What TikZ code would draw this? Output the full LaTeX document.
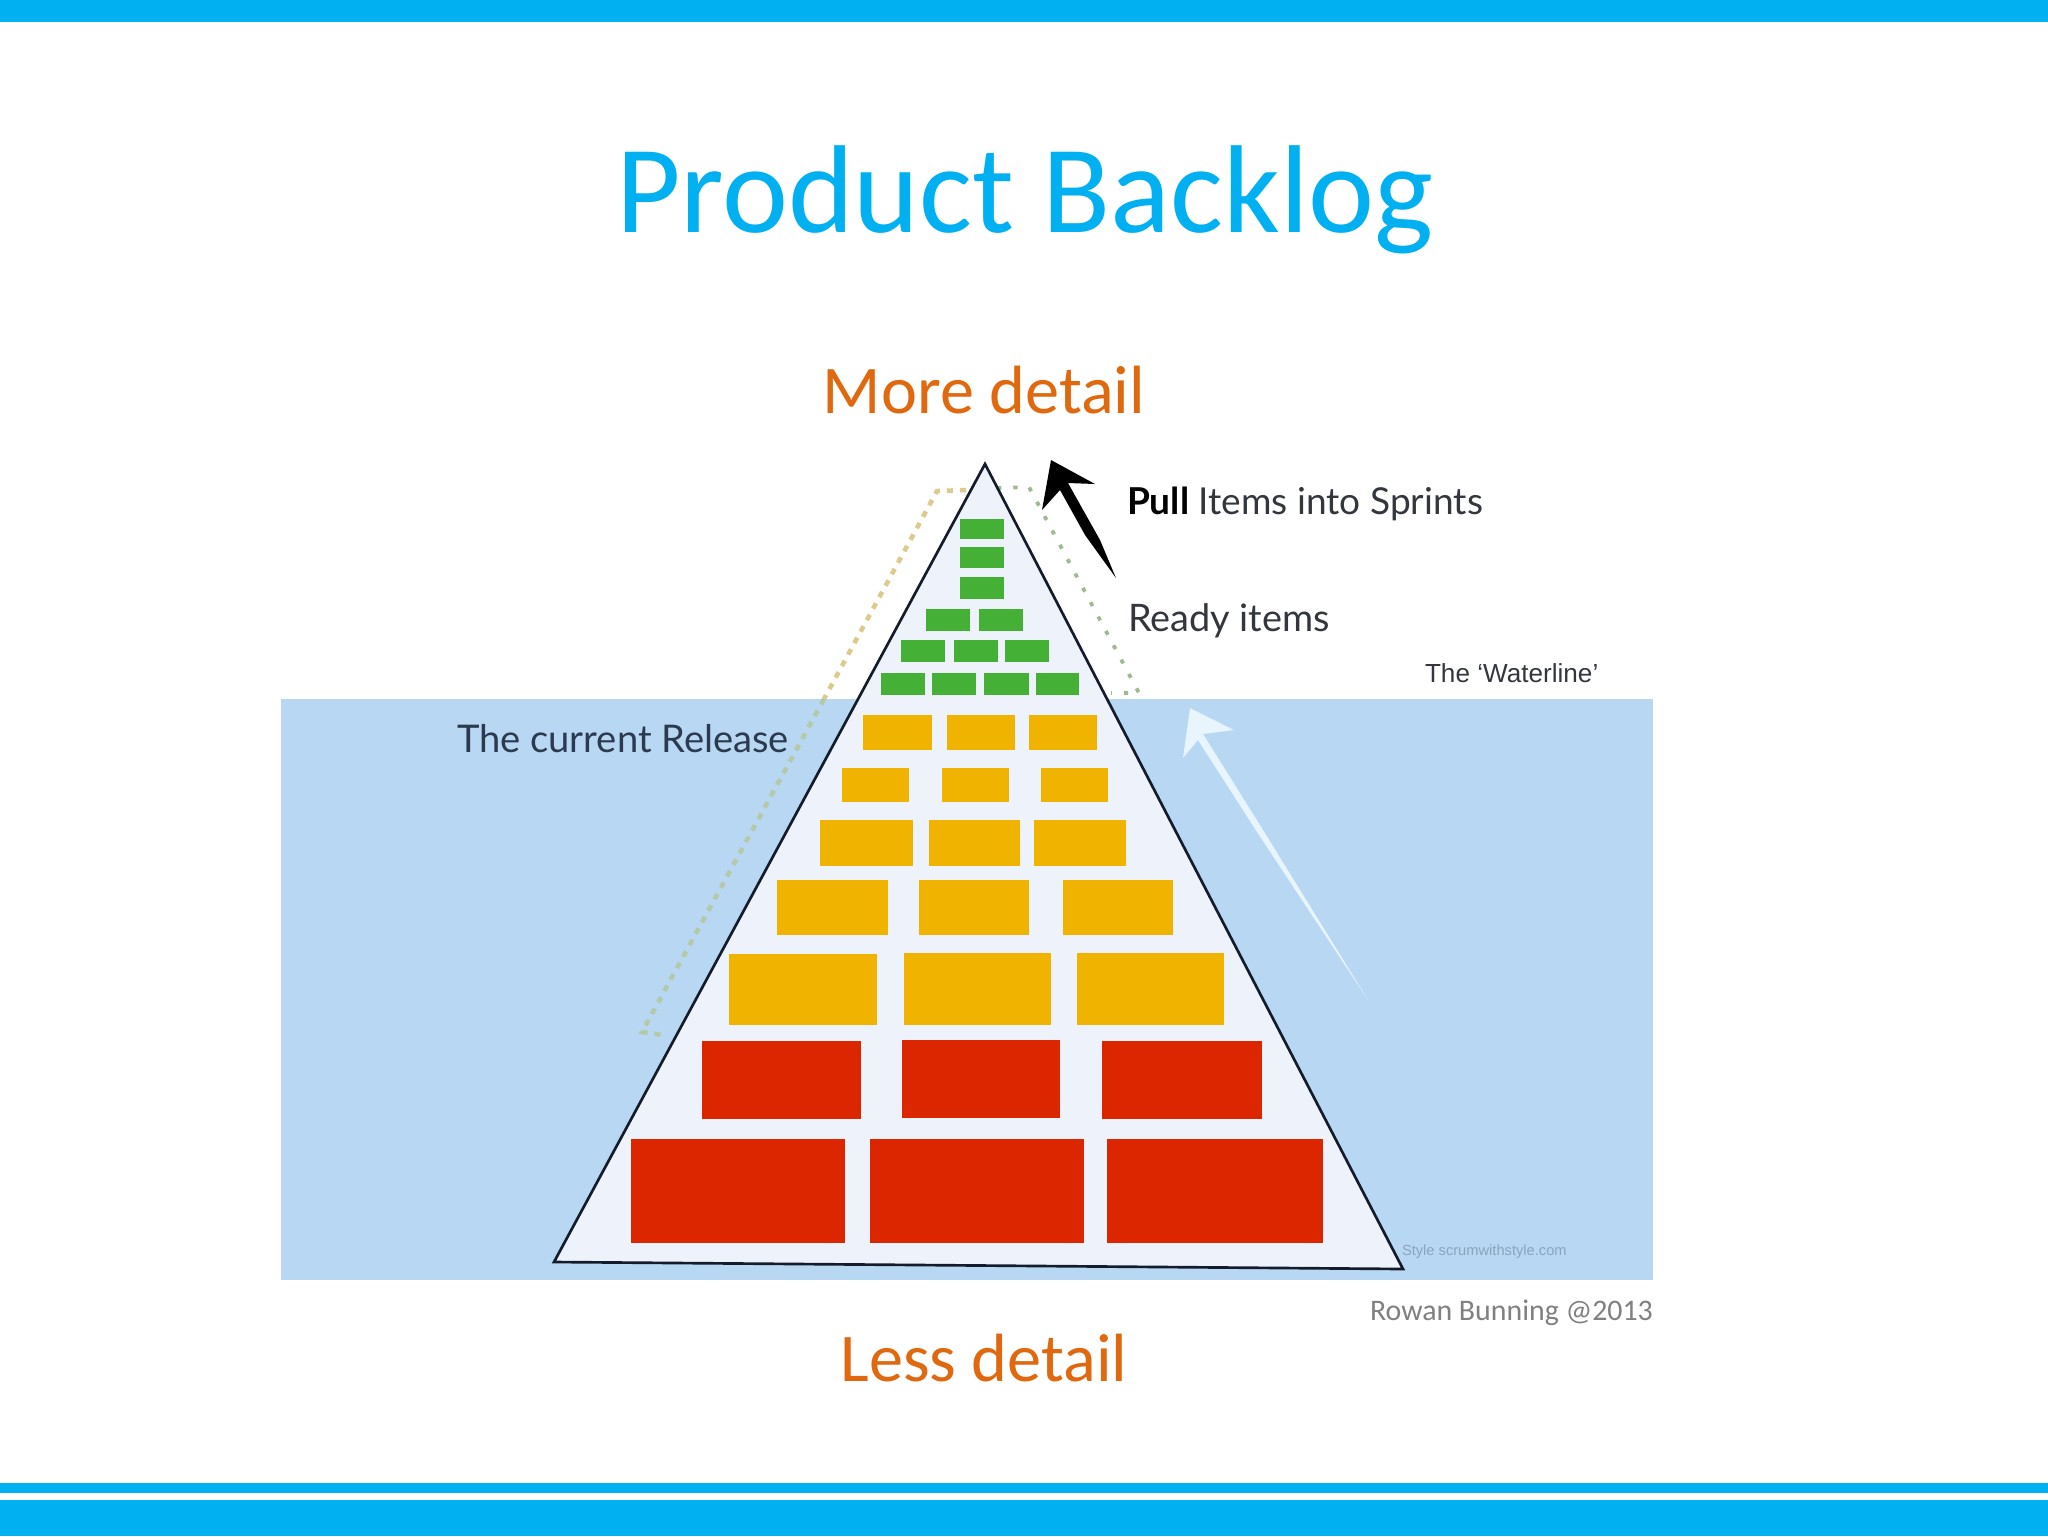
\documentclass[tikz,border=0pt]{standalone}
\usepackage{fontspec}
\setmainfont{Carlito}
\newfontfamily\labelfont{Lato}
\newfontfamily\markfont{Liberation Sans}
\definecolor{barblue}{HTML}{00B0F0}
\definecolor{water}{HTML}{B7D7F2}
\definecolor{pyrfill}{HTML}{EEF2FB}
\definecolor{greenbox}{HTML}{44B035}
\definecolor{orangebox}{HTML}{EFB300}
\definecolor{redbox}{HTML}{DC2600}
\definecolor{orangetext}{HTML}{E0690F}
\definecolor{releasedash}{HTML}{DCCB8C}
\definecolor{releasewater}{HTML}{B4C9A8}
\definecolor{readydot}{HTML}{9DBB8F}
\definecolor{labeltext}{HTML}{33373D}
\definecolor{navytext}{HTML}{2B3A4F}
\definecolor{arrowwhite}{HTML}{E9F5FD}
\definecolor{pyrline}{HTML}{141C2B}
\definecolor{marktext}{HTML}{8AA4BE}
\tikzset{
  x=0.375pt,y=-0.375pt,
  gbox/.style={fill=greenbox,draw=none},
  obox/.style={fill=orangebox,draw=none},
  rbox/.style={fill=redbox,draw=none},
  lbl/.style={anchor=base west,inner sep=0pt,outer sep=0pt},
  ctr/.style={anchor=base,inner sep=0pt,outer sep=0pt},
}
\begin{document}
\begin{tikzpicture}
\useasboundingbox (0,0) rectangle (2048,1536);
\fill[white] (0,0) rectangle (2048,1536);
% bars
\fill[barblue] (0,0) rectangle (2048,22);
\fill[barblue] (0,1483) rectangle (2048,1493);
\fill[barblue] (0,1500) rectangle (2048,1536);
% water
\fill[water] (281,699) rectangle (1653,1280);
% dashed release outline
\draw[releasedash,line width=1.7pt,dash pattern=on 2.3pt off 2.6pt] (966,490) -- (937,491) -- (824,699);
\draw[releasewater,line width=1.7pt,dash pattern=on 2.3pt off 2.6pt] (824,699) -- (642,1032) -- (663,1035);
% ready outline
\draw[readydot,line width=1.4pt,dash pattern=on 1.6pt off 4.5pt] (997,488) -- (1029,487) -- (1139,693) -- (1111,693);
% pyramid
\draw[fill=pyrfill,draw=pyrline,line width=1pt,line join=miter] (985,464) -- (1403,1269) -- (554,1262) -- cycle;
% green
\fill[gbox] (960,519) rectangle (1004,539);
\fill[gbox] (960,547) rectangle (1004,568);
\fill[gbox] (960,577) rectangle (1004,599);
\fill[gbox] (926,609) rectangle (970,631);
\fill[gbox] (979,609) rectangle (1023,631);
\fill[gbox] (901,640) rectangle (945,662);
\fill[gbox] (954,640) rectangle (998,662);
\fill[gbox] (1005,640) rectangle (1049,662);
\fill[gbox] (881,673) rectangle (925,695);
\fill[gbox] (932,673) rectangle (976,695);
\fill[gbox] (984,673) rectangle (1029,695);
\fill[gbox] (1036,673) rectangle (1079,695);
% orange
\fill[obox] (863,715) rectangle (932,750);
\fill[obox] (947,715) rectangle (1015,750);
\fill[obox] (1029,715) rectangle (1097,750);
\fill[obox] (842,768) rectangle (909,802);
\fill[obox] (942,768) rectangle (1009,802);
\fill[obox] (1041,768) rectangle (1108,802);
\fill[obox] (820,820) rectangle (913,866);
\fill[obox] (929,820) rectangle (1020,866);
\fill[obox] (1034,820) rectangle (1126,866);
\fill[obox] (777,880) rectangle (888,935);
\fill[obox] (919,880) rectangle (1029,935);
\fill[obox] (1063,880) rectangle (1173,935);
\fill[obox] (729,954) rectangle (877,1025);
\fill[obox] (904,953) rectangle (1051,1025);
\fill[obox] (1077,953) rectangle (1224,1025);
% red
\fill[rbox] (702,1041) rectangle (861,1119);
\fill[rbox] (902,1040) rectangle (1060,1118);
\fill[rbox] (1102,1041) rectangle (1262,1119);
\fill[rbox] (631,1139) rectangle (845,1243);
\fill[rbox] (870,1139) rectangle (1084,1243);
\fill[rbox] (1107,1139) rectangle (1323,1243);
% pull arrow
\fill[black] (1051,460) -- (1095,484) -- (1068,483) -- (1100,540) -- (1116,578) -- (1085,535) -- (1060,490) -- (1042,510) -- cycle;
% rise arrow
\fill[arrowwhite] (1190,708) -- (1234,730) -- (1203,734) -- (1263,830) -- (1368,1000) -- (1257,832) -- (1198,740) -- (1183,758) -- cycle;
% texts
\node[ctr,text=barblue,font=\fontsize{46.9}{50}\selectfont] (title) at (1025,232) {Product Backlog};
\node[ctr,text=orangetext,font=\fontsize{25.6}{28}\selectfont] (more) at (984,413) {More detail};
\node[ctr,text=orangetext,font=\fontsize{25.6}{28}\selectfont] (less) at (984,1381) {Less detail};
\node[lbl,text=black!50,font=\fontsize{11.2}{13}\selectfont] (credit) at (1370,1320) {Rowan Bunning @2013};
\node[lbl,text=labeltext,font=\labelfont\fontsize{13.9}{16}\selectfont] (pull) at (1127,514) {\textcolor{black}{\textbf{Pull}} Items into Sprints};
\node[lbl,text=labeltext,font=\labelfont\fontsize{14.2}{16}\selectfont] (ready) at (1128,631) {Ready items};
\node[lbl,text=navytext,font=\labelfont\fontsize{14.3}{16}\selectfont] (release) at (457,752) {The current Release};
\node[lbl,text=labeltext,font=\markfont\fontsize{9.8}{12}\selectfont] (waterline) at (1425,682) {The ‘Waterline’};
\node[lbl,text=marktext,font=\markfont\fontsize{5.5}{7}\selectfont] (mark) at (1402,1255) {Style scrumwithstyle.com};
\end{tikzpicture}
\end{document}
